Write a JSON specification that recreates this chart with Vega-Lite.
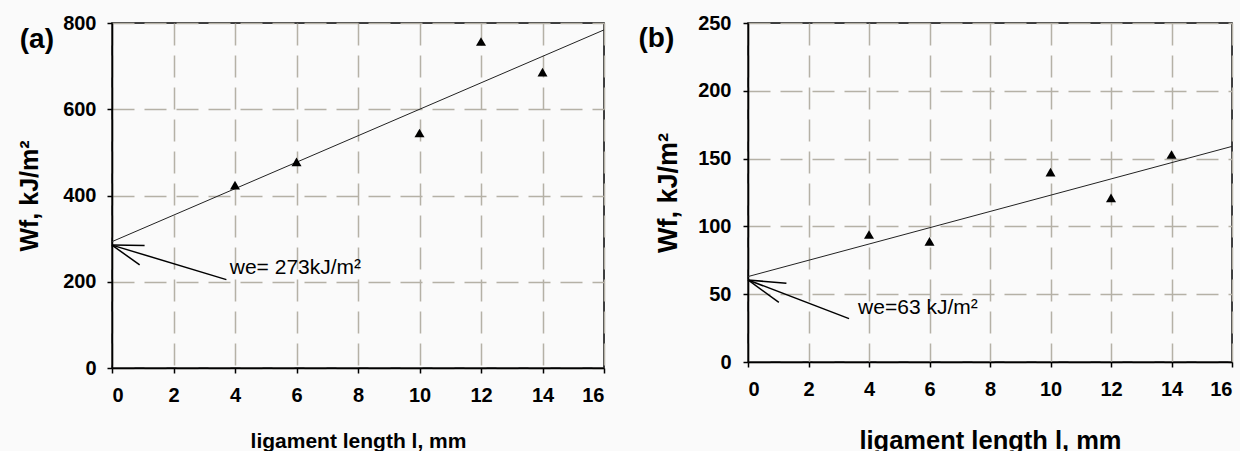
{
  "$schema": "https://vega.github.io/schema/vega-lite/v6.json",
  "background": "#fafafa",
  "padding": {"left": 16, "top": 12, "right": 5, "bottom": 0},
  "spacing": 144,
  "bounds": "flush",
  "config": {
    "font": "Liberation Sans",
    "view": {"stroke": "black", "strokeWidth": 1.5},
    "axis": {
      "labelFont": "Liberation Sans",
      "titleFont": "Liberation Sans",
      "labelFontWeight": "bold",
      "titleFontWeight": "bold",
      "labelFontSize": 20,
      "labelColor": "black",
      "titleColor": "black",
      "domainColor": "black",
      "domainWidth": 1.5,
      "tickColor": "black",
      "tickWidth": 1.5,
      "tickSize": 5,
      "gridColor": "#b5b1a6",
      "gridDash": [22, 10],
      "gridWidth": 1.5,
      "gridOpacity": 1
    }
  },
  "datasets": {
    "pts_a": [
      {"l": 4, "wf": 424}, {"l": 6, "wf": 478}, {"l": 10, "wf": 545}, {"l": 12, "wf": 757}, {"l": 14, "wf": 686}
    ],
    "fit_a": [{"l": 0, "wf": 293}, {"l": 16, "wf": 784}],
    "arr_a": [
      {"l": 0, "wf": 285, "l2": 1.06, "wf2": 284},
      {"l": 0, "wf": 285, "l2": 0.9, "wf2": 239},
      {"l": 0, "wf": 285, "l2": 3.72, "wf2": 205}
    ],
    "lab_a": [{"l": 3.83, "wf": 218, "t": "we= 273kJ/m²"}],
    "tag_a": [{"l": -3.0, "wf": 743, "t": "(a)"}],
    "pts_b": [
      {"l": 4, "wf": 94}, {"l": 6, "wf": 89}, {"l": 10, "wf": 140}, {"l": 12, "wf": 121}, {"l": 14, "wf": 153}
    ],
    "fit_b": [{"l": 0, "wf": 63}, {"l": 16, "wf": 159}],
    "arr_b": [
      {"l": 0, "wf": 60.5, "l2": 1.27, "wf2": 58},
      {"l": 0, "wf": 60.5, "l2": 1.02, "wf2": 44},
      {"l": 0, "wf": 60.5, "l2": 3.34, "wf2": 32}
    ],
    "lab_b": [{"l": 3.64, "wf": 35.4, "t": "we=63 kJ/m²"}],
    "tag_b": [{"l": -3.62, "wf": 232, "t": "(b)"}]
  },
  "hconcat": [
    {
      "width": 492,
      "height": 345,
      "layer": [
        {
          "data": {"name": "fit_a"},
          "mark": {"type": "line", "color": "#222", "strokeWidth": 1},
          "encoding": {
            "x": {"field": "l", "type": "quantitative", "scale": {"domain": [0, 16], "nice": false},
                  "axis": {"values": [0, 2, 4, 6, 8, 10, 12, 14, 16], "title": "ligament length l, mm", "titleFontSize": 21, "labelPadding": 12, "titlePadding": 25}},
            "y": {"field": "wf", "type": "quantitative", "scale": {"domain": [0, 800], "nice": false},
                  "axis": {"values": [0, 200, 400, 600, 800], "title": "Wf, kJ/m²", "titleFontSize": 25, "labelPadding": 11, "titlePadding": 20}}
          }
        },
        {
          "data": {"name": "pts_a"},
          "mark": {"type": "point", "shape": "triangle-up", "filled": true, "color": "black", "size": 100, "opacity": 1},
          "encoding": {
            "x": {"field": "l", "type": "quantitative"},
            "y": {"field": "wf", "type": "quantitative"}
          }
        },
        {
          "data": {"name": "arr_a"},
          "mark": {"type": "rule", "color": "black", "strokeWidth": 1.5},
          "encoding": {
            "x": {"field": "l", "type": "quantitative"},
            "y": {"field": "wf", "type": "quantitative"},
            "x2": {"field": "l2"},
            "y2": {"field": "wf2"}
          }
        },
        {
          "data": {"name": "lab_a"},
          "mark": {"type": "text", "align": "left", "baseline": "alphabetic", "fontSize": 21, "color": "black", "font": "Liberation Sans"},
          "encoding": {
            "x": {"field": "l", "type": "quantitative"},
            "y": {"field": "wf", "type": "quantitative"},
            "text": {"field": "t"}
          }
        },
        {
          "data": {"name": "tag_a"},
          "mark": {"type": "text", "align": "left", "baseline": "alphabetic", "fontSize": 28, "fontWeight": "bold", "color": "black", "font": "Liberation Sans"},
          "encoding": {
            "x": {"field": "l", "type": "quantitative"},
            "y": {"field": "wf", "type": "quantitative"},
            "text": {"field": "t"}
          }
        }
      ]
    },
    {
      "width": 484,
      "height": 339,
      "layer": [
        {
          "data": {"name": "fit_b"},
          "mark": {"type": "line", "color": "#222", "strokeWidth": 1},
          "encoding": {
            "x": {"field": "l", "type": "quantitative", "scale": {"domain": [0, 16], "nice": false},
                  "axis": {"values": [0, 2, 4, 6, 8, 10, 12, 14, 16], "title": "ligament length l, mm", "titleFontSize": 25.5, "labelPadding": 12, "titlePadding": 29}},
            "y": {"field": "wf", "type": "quantitative", "scale": {"domain": [0, 250], "nice": false},
                  "axis": {"values": [0, 50, 100, 150, 200, 250], "title": "Wf, kJ/m²", "titleFontSize": 27, "labelPadding": 12, "titlePadding": 15}}
          }
        },
        {
          "data": {"name": "pts_b"},
          "mark": {"type": "point", "shape": "triangle-up", "filled": true, "color": "black", "size": 100, "opacity": 1},
          "encoding": {
            "x": {"field": "l", "type": "quantitative"},
            "y": {"field": "wf", "type": "quantitative"}
          }
        },
        {
          "data": {"name": "arr_b"},
          "mark": {"type": "rule", "color": "black", "strokeWidth": 1.5},
          "encoding": {
            "x": {"field": "l", "type": "quantitative"},
            "y": {"field": "wf", "type": "quantitative"},
            "x2": {"field": "l2"},
            "y2": {"field": "wf2"}
          }
        },
        {
          "data": {"name": "lab_b"},
          "mark": {"type": "text", "align": "left", "baseline": "alphabetic", "fontSize": 21, "color": "black", "font": "Liberation Sans"},
          "encoding": {
            "x": {"field": "l", "type": "quantitative"},
            "y": {"field": "wf", "type": "quantitative"},
            "text": {"field": "t"}
          }
        },
        {
          "data": {"name": "tag_b"},
          "mark": {"type": "text", "align": "left", "baseline": "alphabetic", "fontSize": 28, "fontWeight": "bold", "color": "black", "font": "Liberation Sans"},
          "encoding": {
            "x": {"field": "l", "type": "quantitative"},
            "y": {"field": "wf", "type": "quantitative"},
            "text": {"field": "t"}
          }
        }
      ]
    }
  ]
}
